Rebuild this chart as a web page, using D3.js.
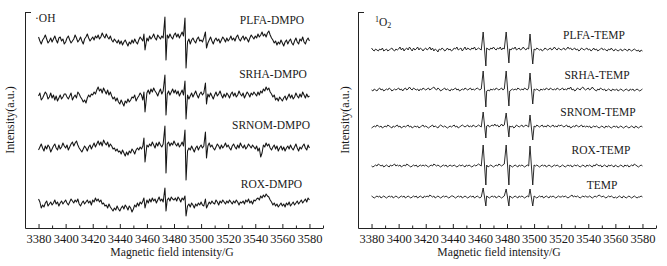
<!DOCTYPE html>
<html>
<head>
<meta charset="utf-8">
<script src="https://cdn.jsdelivr.net/npm/d3@7"></script>
<style>
  body { margin: 0; background: #fff; }
  svg { display: block; font-family: "Liberation Serif", "Times New Roman", serif; }
</style>
</head>
<body>
<div id="chart"></div>
<script>
// magnetic field grid of the spectra (G), one point per gauss
const fields = d3.range(3380, 3581, 1);
const majorTicks = d3.range(3380, 3581, 20);
const minorTicks = d3.range(3370, 3591, 20);

// ---- DMPO (·OH) panel ----
const dmpoLabels = ["PLFA-DMPO", "SRHA-DMPO", "SRNOM-DMPO", "ROX-DMPO"];
const dmpoOffsets = [188, 131, 80, 25];
const dmpoPeakFields = [3458.2, 3473.7, 3488.5, 3503.6];

// baseline readings, one row per 20 G
const plfaDmpo = [
  3, -1, -4, 0, 2, 5, 1, -3, -1, 2, -2, 1, 4, 0, -3, 2, 3, -1, 1, -4,
  -2, 2, 4, 0, -3, -1, 1, 5, 2, -2, 0, 3, -1, -4, 1, 3, 6, 2, -1, 1,
  3, 0, 4, 2, 5, 1, 3, 7, 4, 2, 6, 3, 1, 4, 0, -2, 1, -1, -3, 0,
  -4, -1, -5, -2, 0, -3, -6, -2, -4, 0, -3, 1, -2, -4, 0, 3, 1, -1, 0, 0,
  2, -1, 4, 1, 3, 6, 2, 0, 5, 3, 1, 4, 2, 0, 0, 5, 2, 6, 3, 1,
  5, 7, 3, 6, 2, 5, 8, 4, 0, 0, -2, 1, -4, 0, 2, -1, -3, 1, 3, -1,
  0, -2, 2, 0, 0, -3, 0, 3, -1, -4, 0, 2, -1, 1, -3, 0, 3, 1, -2, 2,
  -1, 1, 4, 0, 2, -1, 3, 5, 1, -1, 2, 4, 0, 3, 1, -2, 2, 5, 3, 1,
  4, 2, 6, 3, 5, 8, 4, 6, 3, 7, 9, 5, 2, 0, -3, -1, -5, -2, -4, 0,
  -3, -6, -2, 0, -4, -1, 1, -3, -5, -1, 2, -2, -4, 1, -1, 3, -2, -4, 0, 2,
  -1];
const srhaDmpo = [
  1, 4, -3, -1, 2, 5, 3, -2, 0, 4, -1, 2, -3, 1, -4, -1, 2, -2, 0, 3,
  3, 0, -2, 1, 4, -3, 0, 2, -1, 5, 3, 0, -2, -5, -3, -6, -1, 2, 0, 3,
  2, 5, 3, 7, 10, 6, 8, 4, 9, 6, 3, 7, 2, 5, 1, -2, 0, -4, -1, -5,
  -7, -3, -6, -9, -4, -6, -2, -5, -3, 0, -1, 2, -4, -1, 1, 4, 2, -3, 0, 0,
  4, 7, 3, 8, 5, 9, 6, 4, 1, 5, 8, 3, 6, 0, 0, 3, 6, 2, 5, 8,
  4, 7, 3, 6, 1, 4, 7, 2, 0, 0, 2, -2, 1, 4, 0, 3, 6, 2, -1, 3,
  5, 2, 4, 0, 0, 3, 0, 4, 1, -2, 2, 5, 1, 3, 6, 2, -1, 3, 0, 4,
  2, -1, 3, 5, 1, 4, 0, 2, 6, 3, 1, 4, -1, 2, 5, 3, 0, 4, 2, 5,
  3, 1, 5, 2, 6, 4, 8, 6, 10, 7, 9, 5, 3, 0, 2, -3, -1, -4, 0, -2,
  -4, -1, 1, -3, 0, 3, -1, 2, -2, 0, 4, 1, -1, 3, 0, 5, 2, -1, 3, 0,
  1];
const srnomDmpo = [
  -2, 1, 4, 0, -3, 2, -1, 3, 1, -4, -1, 2, 4, 0, -2, 3, -1, 1, 5, 2,
  0, 3, -2, 1, 4, 6, 2, 5, 7, 3, 0, -2, -4, -1, 2, 0, -3, 1, 3, -1,
  2, 5, 1, 4, 7, 3, 6, 2, 8, 5, 3, 6, 1, 4, 2, -1, 0, -3, -1, -4,
  -3, -6, -2, -5, -8, -4, -7, -3, -5, -1, -3, -6, -2, 0, -2, 1, -1, 2, 0, 0,
  3, 1, 4, 2, 6, 3, 0, 5, 2, 6, 3, 1, 4, 0, 0, 4, 6, 2, 5, 3,
  7, 4, 2, 5, 1, 3, 6, 2, 0, 0, -3, 0, -2, 2, -1, -4, 0, 2, -2, 1,
  3, 0, 2, 0, 0, 2, 5, 1, 3, 0, -2, 1, 4, 2, -1, 3, 0, 2, 5, 1,
  3, 0, -2, 2, 4, 1, -1, 3, 0, 5, 2, 0, 3, -1, 1, 4, 2, 0, 3, 1,
  -1, 2, -3, 0, -9, -5, 3, 1, 5, 2, 4, 0, -2, 1, 3, -1, 2, -3, 0, 2,
  -2, 1, -3, 0, 2, -1, 3, 0, -2, 1, 4, 0, -3, 1, -1, 2, 4, 0, -2, 3,
  0];
const roxDmpo = [
  4, 1, -5, -2, -4, 0, 2, -3, -1, 1, -2, 0, 3, -1, 1, -3, 0, 2, -1, 1,
  3, 0, -2, 1, 4, 2, 0, 3, 1, 4, -1, -3, 0, 2, -1, 1, 3, 0, 2, -2,
  3, 1, 5, 2, 4, 1, 3, -1, 0, -3, -2, -5, -1, -4, -6, -8, -5, -7, -3, -6,
  -8, -5, -3, -6, -2, -4, -7, -3, -5, -9, -6, -2, -4, 0, -3, 1, -1, 2, 0, 0,
  3, 0, 4, 1, 5, 2, 4, 0, 3, 6, 2, 4, 1, 0, 0, 3, 5, 2, 6, 4,
  3, 5, 2, 6, 4, 1, 5, 3, 0, 0, -3, -1, -4, 0, -2, -5, -1, -3, 0, -2,
  1, -2, -3, 0, 0, -2, 1, -1, 2, 0, -1, 3, 1, -2, 2, 0, 3, 1, -1, 2,
  0, 3, 1, -1, 2, 0, 3, 1, -2, 1, 0, 2, -1, 3, 1, 4, 0, 2, -1, 3,
  2, 4, 5, 3, 7, 5, 8, 6, 9, 7, 6, 3, 1, -2, 0, -3, -1, -4, -2, 0,
  -3, -1, -4, 0, -2, 1, -3, -1, 1, -2, 0, 2, -1, 1, 3, 0, 2, 4, 1, 5,
  3];
// [positive lobe, negative lobe] of each DMPO-OH line
const plfaDmpoPeaks = [[6, 10], [23, 20], [22, 28], [8, 8]];
const srhaDmpoPeaks = [[5, 15], [22, 18], [16, 22], [14, 7]];
const srnomDmpoPeaks = [[10, 14], [22, 25], [18, 32], [16, 10]];
const roxDmpoPeaks = [[5, 5], [15, 8], [7, 13], [4, 5]];

// ---- TEMP (1O2) panel ----
const tempLabels = ["PLFA-TEMP", "SRHA-TEMP", "SRNOM-TEMP", "ROX-TEMP", "TEMP"];
const tempOffsets = [178, 138, 101, 62, 31];
const tempPeakFields = [3463.4, 3480.4, 3498.0];

const plfaTemp = [
  2, 0, -1, 1, 0, -1, 1, 0, 2, -1, 0, 1, -1, 0, 1, 2, 0, -1, 1, 0,
  1, 3, 0, 2, -1, 1, 2, 0, 3, 1, -1, 2, 0, 1, 3, 0, 2, 1, -1, 1,
  2, 0, 1, 3, 0, 2, -1, 1, 0, -2, 1, 0, 2, 1, -1, 0, 2, 0, 1, -1,
  0, 2, 1, 3, 0, 1, 2, -1, 1, 3, 0, 2, 1, 0, 2, 1, 3, 0, 1, 2,
  1, 0, 0, 0, 0, 2, 1, 0, 2, 1, 3, 1, 0, 2, 1, 3, 0, 2, 1, 0,
  0, 0, 1, 0, 2, 1, 3, 0, 1, 2, 0, 1, 3, 1, 0, 2, 1, 0, 0, 0,
  1, 0, 2, 1, 0, 1, -1, 0, 2, 1, 0, 1, 2, 0, 1, 3, 1, 0, 2, 1,
  0, 1, 2, 0, 1, 3, 1, 2, 0, 1, 2, 0, 1, -1, 0, 2, 1, 0, 1, 2,
  0, 1, -1, 0, 2, 0, 1, -1, 0, 1, 2, 0, 1, 0, -1, 1, 0, 2, 0, -1,
  1, 0, -1, 0, 1, -1, 0, 1, 0, -1, 1, 0, -1, 0, 1, 0, -1, 0, -2, 0,
  -1];
const srhaTemp = [
  0, -1, 1, 0, -1, 1, 2, 0, 1, -1, 0, 1, 0, 2, 1, -1, 0, 1, 0, 1,
  2, 0, 1, -1, 1, 2, 0, 1, 3, 1, 0, 2, 1, 0, 1, -1, 1, 0, 2, 1,
  0, 1, 2, 0, 1, 2, 3, 1, 0, 2, 1, -1, 0, 1, 2, 0, 1, 0, -1, 1,
  0, 1, 2, 0, 1, -1, 0, 1, 0, 2, 1, 0, 1, 2, 0, 1, 0, 1, 2, 1,
  0, 1, 0, 0, 0, -1, 0, -1, 1, 0, 1, 0, 2, 1, 0, 1, 2, 0, 1, 0,
  0, 0, -1, 0, 1, 0, 1, 0, 2, 1, 0, 1, 0, 2, 1, 0, 2, 0, 0, 0,
  1, 0, 1, 0, -1, 1, 0, 1, 0, 2, 1, 0, 2, 1, 0, 1, 0, 2, 1, 0,
  1, 2, 0, 1, 0, 2, 1, 3, 0, 1, -1, 0, 2, 1, 0, 2, 3, 1, 0, 1,
  2, 0, 1, 3, 1, 0, -1, 1, 0, 2, 1, 0, 1, -1, 0, 1, 0, -1, 1, 0,
  0, 1, -1, 0, 1, 0, -1, 0, 1, 0, -1, 1, 0, 1, -1, 0, 1, 0, -1, 0,
  1];
const srnomTemp = [
  -1, 0, 1, 0, 2, 1, 0, 1, -1, 0, 1, 0, 2, 1, 0, -1, 1, 0, 1, 2,
  0, 1, -1, 0, 1, 0, 1, 2, 0, 1, -1, 0, 1, 0, 1, -1, 0, 1, 2, 0,
  1, 0, -1, 0, 1, 2, 0, 1, 0, -1, 1, 2, 1, 0, 1, 0, -1, 0, 1, 0,
  1, 2, 0, 1, -1, 0, 1, 2, 1, 0, 1, 2, 0, 1, 0, 2, 1, 0, 1, 2,
  1, 0, 0, 0, 0, 1, 2, 0, 1, 2, 1, 3, 1, 2, 0, 1, 3, 1, 2, 0,
  0, 0, 1, 0, 1, -1, 0, 2, 1, 0, 1, 2, 0, 1, 2, 1, 0, 0, 0, 0,
  1, 0, 2, 1, 0, 1, 2, 0, 1, 0, 2, 1, 0, 1, 2, 0, 1, 0, 2, 1,
  2, 1, 0, 1, 2, 0, 1, -1, 0, 1, 0, 2, 1, 0, 1, 2, 0, 1, 0, 1,
  0, 1, -1, 0, 1, 0, 1, 0, -1, 0, 1, 0, -1, 1, 0, 1, 0, -1, 0, 1,
  0, 1, -1, 0, 1, 0, -1, 0, 1, 0, -1, 0, 1, 0, -1, 1, 0, -1, 0, 1,
  0];
const roxTemp = [
  0, -1, 0, 1, 0, 2, 1, 0, 1, -1, 0, 1, 0, -1, 1, 0, 1, 2, 0, 1,
  0, 1, -1, 0, 1, 0, 2, 1, 0, -1, 0, 1, 0, 1, -1, 0, 1, 0, 1, 0,
  1, 0, -1, 0, 1, 0, 2, 1, 0, 1, 0, -1, 0, 1, 0, 1, -1, 0, 1, 0,
  0, 1, 0, -1, 0, 1, 0, 1, 0, -1, 1, 0, 1, 0, -1, 0, 1, 0, 1, 2,
  1, 0, 0, 0, 0, 1, -1, 0, 1, 0, -1, 0, 1, 0, 2, 1, 0, 1, 2, 0,
  0, 0, 1, 0, -1, 0, 1, 0, -1, 1, 0, 1, 0, -1, 0, 1, 0, 0, 0, 0,
  1, 0, 1, 0, -1, 0, 1, 0, 1, -1, 0, 1, 0, -1, 0, 1, 0, 1, 0, -1,
  0, 1, 0, -1, 0, 1, 0, 1, -1, 0, 1, 0, 1, 0, -1, 0, 1, 0, -1, 1,
  0, 1, 0, -1, 1, 0, 2, 1, 0, 1, -1, 0, 1, 0, -1, 1, 0, 1, 0, -1,
  1, 0, -1, 0, 1, 0, -1, 1, 0, 1, -1, 0, 1, 0, 2, 1, 0, -1, 0, 1,
  0];
const tempOnly = [
  1, 0, -1, 0, 1, 0, 1, -1, 0, 1, 0, -1, 0, 1, 0, 1, -1, 0, 1, 0,
  -1, 0, 1, 0, 1, -1, 0, 1, 0, -1, 0, 1, 0, 1, -1, 0, 1, 0, -1, 1,
  0, 1, 0, 2, 1, 0, 1, -1, 0, 1, 0, -1, 0, 1, 0, 1, 0, -1, 0, 1,
  1, 0, -1, 0, 1, 0, 1, -1, 0, 1, 0, -1, 0, 1, 0, 1, -1, 0, 1, 0,
  -1, 0, 0, 0, 0, 1, 0, -1, 0, 1, 0, 1, -1, 0, 1, 0, -1, 0, 1, 0,
  0, 0, 1, 0, -1, 0, 1, 0, -1, 1, 0, 1, 0, -1, 0, 1, 0, 0, 0, 0,
  1, 0, -1, 0, 1, 0, 1, -1, 0, 1, 0, -1, 1, 0, 1, 0, -1, 0, 1, 0,
  0, 1, 0, 1, 0, -1, 0, 1, 2, 0, 1, 0, 1, 0, -1, 0, 1, 0, 1, 0,
  0, 1, 0, -1, 0, 1, 0, 1, 2, 1, 0, 1, 0, -1, 0, 1, 0, 1, 0, -1,
  0, -1, 0, 1, 0, -1, 1, 0, -1, 0, 1, 0, -1, 0, 1, 0, -1, 0, 0, 1,
  0];
const plfaTempPeaks = [[18, 16], [18, 13], [16, 14]];
const srhaTempPeaks = [[19, 17], [19, 16], [17, 14]];
const srnomTempPeaks = [[15, 11], [14, 10], [12, 13]];
const roxTempPeaks = [[21, 19], [21, 19], [20, 19]];
const tempOnlyPeaks = [[9, 9], [8, 9], [8, 9]];

// ---- layout ----
const W = 667, H = 266;
const svg = d3.select("#chart").append("svg")
  .attr("width", W).attr("height", H);

const panels = [
  {
    left: 25, right: 323, title: "·OH", titleX: 35, titleY: 18, ylabelX: 10,
    offsets: dmpoOffsets, labels: dmpoLabels,
    labelX: [272, 273, 271, 271.5], labelY: [20, 74, 125, 184],
    peakFields: dmpoPeakFields, win: 1.0, spread: 0.4, lineWidth: 1.05,
    series: [plfaDmpo, srhaDmpo, srnomDmpo, roxDmpo],
    peaks: [plfaDmpoPeaks, srhaDmpoPeaks, srnomDmpoPeaks, roxDmpoPeaks],
    axisTitleX: 172
  },
  {
    left: 358, right: 656, title: null, titleX: 375, titleY: 22, ylabelX: 345,
    offsets: tempOffsets, labels: tempLabels,
    labelX: [594, 597, 598, 601, 602], labelY: [35, 75, 112, 150, 185],
    peakFields: tempPeakFields, win: 1.5, spread: 1.0, lineWidth: 0.9,
    series: [plfaTemp, srhaTemp, srnomTemp, roxTemp, tempOnly],
    peaks: [plfaTempPeaks, srhaTempPeaks, srnomTempPeaks, roxTempPeaks, tempOnlyPeaks],
    axisTitleX: 499
  }
];

const yTop = 12, yBottom = 228;

function tracePoints(noise, peakFields, peaks, win, spread) {
  const pts = [];
  noise.forEach((v, i) => {
    const f = fields[i];
    if (peakFields.some(c => Math.abs(f - c) < win)) return;
    pts.push([f, v]);
  });
  peakFields.forEach((c, k) => {
    pts.push([c - spread, peaks[k][0]]);
    pts.push([c + spread, -peaks[k][1]]);
  });
  return pts.sort((a, b) => a[0] - b[0]);
}

panels.forEach(p => {
  const x = d3.scaleLinear().domain([3370, 3590]).range([p.left, p.right]);
  const y = d3.scaleLinear().domain([0, yBottom - yTop]).range([yBottom, yTop]);
  const g = svg.append("g");

  // traces
  p.series.forEach((s, i) => {
    const pts = tracePoints(s, p.peakFields, p.peaks[i], p.win, p.spread);
    const line = d3.line()
      .x(d => x(d[0]))
      .y(d => y(p.offsets[i] + d[1]));
    g.append("path")
      .datum(pts)
      .attr("d", line)
      .attr("fill", "none")
      .attr("stroke", "#151515")
      .attr("stroke-width", p.lineWidth)
      .attr("stroke-linejoin", "round");

    g.append("text")
      .attr("x", p.labelX[i])
      .attr("y", p.labelY[i])
      .attr("text-anchor", "middle")
      .attr("dominant-baseline", "central")
      .attr("font-size", 11.5)
      .attr("fill", "#1a1a1a")
      .text(p.labels[i]);
  });

  // x axis, major + minor ticks pointing inward
  const xa = g.append("g")
    .attr("transform", `translate(0,${yBottom})`)
    .call(d3.axisBottom(x).tickValues(majorTicks)
      .tickSizeInner(-4).tickSizeOuter(0).tickPadding(6.5)
      .tickFormat(d3.format("d")));
  xa.attr("font-family", null).attr("font-size", null);
  xa.selectAll("text").attr("font-size", 12.5).attr("fill", "#1a1a1a");
  xa.selectAll("path, line").attr("stroke", "#222");

  const xm = g.append("g")
    .attr("transform", `translate(0,${yBottom})`)
    .call(d3.axisBottom(x).tickValues(minorTicks)
      .tickSizeInner(-2.5).tickSizeOuter(0).tickFormat(""));
  xm.select(".domain").remove();
  xm.selectAll("line").attr("stroke", "#222");

  // y axis with a single tick at the top
  const ya = g.append("g")
    .attr("transform", `translate(${p.left},0)`)
    .call(d3.axisLeft(y).tickValues([yBottom - yTop])
      .tickSizeInner(-6).tickSizeOuter(0).tickFormat(""));
  ya.selectAll("path, line").attr("stroke", "#222");

  // axis titles
  g.append("text")
    .attr("x", p.axisTitleX).attr("y", 252)
    .attr("text-anchor", "middle")
    .attr("dominant-baseline", "central")
    .attr("font-size", 11.7)
    .attr("fill", "#1a1a1a")
    .text("Magnetic field intensity/G");

  g.append("text")
    .attr("transform", `translate(${p.ylabelX},120) rotate(-90)`)
    .attr("text-anchor", "middle")
    .attr("dominant-baseline", "central")
    .attr("font-size", 12)
    .attr("fill", "#1a1a1a")
    .text("Intensity(a.u.)");

  // panel tag
  const tag = g.append("text")
    .attr("x", p.titleX).attr("y", p.titleY)
    .attr("dominant-baseline", "central")
    .attr("font-size", 11.5)
    .attr("fill", "#1a1a1a");
  if (p.title) {
    tag.text(p.title);
  } else {
    tag.append("tspan").attr("font-size", 8).attr("dy", -3).text("1");
    tag.append("tspan").attr("dy", 3).text("O");
    tag.append("tspan").attr("font-size", 8).attr("dy", 3).text("2");
  }
});
</script>
</body>
</html>
